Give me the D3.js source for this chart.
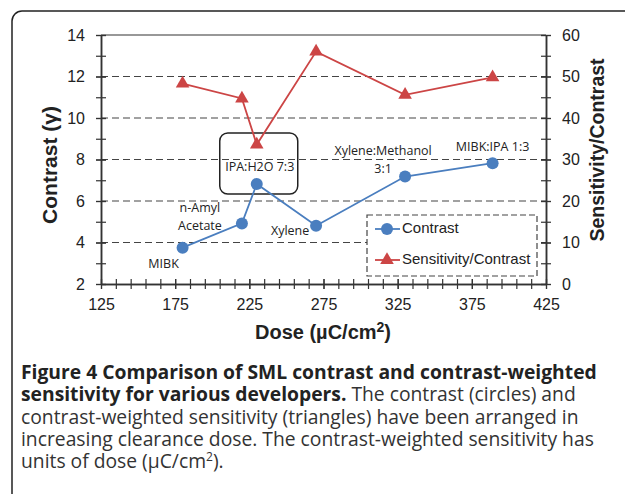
<!DOCTYPE html>
<html>
<head>
<meta charset="utf-8">
<script src="https://cdn.jsdelivr.net/npm/d3@7"></script>
<style>
  body { margin: 0; background: #fff; }
  svg { display: block; }
</style>
</head>
<body>
<svg id="chart" width="625" height="494"></svg>
<script>
// developers, in order of clearance dose
const developers = ["MIBK", "n-Amyl Acetate", "IPA:H2O 7:3", "Xylene", "Xylene:Methanol 3:1", "MIBK:IPA 1:3"]
const dose = [180, 220, 230, 270, 330, 389]
const contrast = [3.75, 4.92, 6.82, 4.81, 7.18, 7.82]
const sensContrast = [48.3, 44.7, 33.6, 56, 45.6, 49.8]

const xTicks = [125, 175, 225, 275, 325, 375, 425]
const yLeftTicks = [2, 4, 6, 8, 10, 12, 14]
const yRightTicks = [0, 10, 20, 30, 40, 50, 60]
const gridValues = [4, 6, 8, 10, 12]

const blue = "#4a7ebf"
const red = "#cc4545"

let svg = d3.select("#chart")

// outer frame of the figure panel (runs off the page on the right and bottom)
svg.append("rect")
    .attr("x", 12).attr("y", 11)
    .attr("width", 640).attr("height", 520)
    .attr("rx", 10)
    .attr("fill", "none")
    .attr("stroke", "#222")
    .attr("stroke-width", 1.5)

let x = d3.scaleLinear().domain([125, 425]).range([101, 546])
let yL = d3.scaleLinear().domain([2, 14]).range([284, 35])
let yR = d3.scaleLinear().domain([0, 60]).range([284, 35])

// dashed gridlines
svg.append("g").selectAll("line")
    .data(gridValues)
    .join("line")
    .attr("x1", x(125)).attr("x2", x(425))
    .attr("y1", d => yL(d)).attr("y2", d => yL(d))
    .attr("stroke", "#444")
    .attr("stroke-width", 1.2)
    .attr("stroke-dasharray", "7,4")

// top border of plot
svg.append("line")
    .attr("x1", x(125)).attr("x2", x(425))
    .attr("y1", yL(14)).attr("y2", yL(14))
    .attr("stroke", "#333").attr("stroke-width", 1.2)

function crossTicks(g, len, vertical) {
    g.selectAll(".tick line")
        .attr(vertical ? "x1" : "y1", -len)
        .attr(vertical ? "x2" : "y2", len)
        .attr("stroke", "#333")
        .attr("stroke-width", 1.2)
    g.select(".domain").attr("stroke", "#333").attr("stroke-width", 1.5)
    g.selectAll("text")
        .attr("font-family", "Liberation Sans, Arial, sans-serif")
        .attr("font-size", 16)
        .attr("fill", "#222")
}

// minor ticks
let xMinor = d3.range(125, 426, 10)
svg.append("g")
    .attr("transform", `translate(0,${yL(2)})`)
    .call(d3.axisBottom(x).tickValues(xMinor).tickFormat("").tickSizeOuter(0))
    .call(g => crossTicks(g, 5, false))

svg.append("g")
    .attr("transform", `translate(0,${yL(2)})`)
    .call(d3.axisBottom(x).tickValues(xTicks).tickFormat(d3.format("d")).tickSizeOuter(0).tickPadding(9))
    .call(g => crossTicks(g, 5, false))

svg.append("g")
    .attr("transform", `translate(${x(125)},0)`)
    .call(d3.axisLeft(yL).tickValues(d3.range(2, 14.1, 1)).tickFormat("").tickSizeOuter(0))
    .call(g => crossTicks(g, 5, true))

svg.append("g")
    .attr("transform", `translate(${x(125)},0)`)
    .call(d3.axisLeft(yL).tickValues(yLeftTicks).tickFormat(d3.format("d")).tickSizeOuter(0).tickPadding(10))
    .call(g => crossTicks(g, 5, true))

svg.append("g")
    .attr("transform", `translate(${x(425)},0)`)
    .call(d3.axisRight(yR).tickValues(d3.range(0, 60.1, 5)).tickFormat("").tickSizeOuter(0))
    .call(g => crossTicks(g, 5, true))

svg.append("g")
    .attr("transform", `translate(${x(425)},0)`)
    .call(d3.axisRight(yR).tickValues(yRightTicks).tickFormat(d3.format("d")).tickSizeOuter(0).tickPadding(10))
    .call(g => crossTicks(g, 5, true))

// axis titles
let titleFont = "Liberation Sans, Arial, sans-serif"
svg.append("text")
    .attr("transform", "translate(57,165) rotate(-90)")
    .attr("text-anchor", "middle")
    .attr("font-family", titleFont).attr("font-weight", "bold").attr("font-size", 21)
    .attr("fill", "#222")
    .text("Contrast (γ)")

svg.append("text")
    .attr("transform", "translate(604,150) rotate(-90)")
    .attr("text-anchor", "middle")
    .attr("font-family", titleFont).attr("font-weight", "bold").attr("font-size", 19.5)
    .attr("fill", "#222")
    .text("Sensitivity/Contrast")

let xTitle = svg.append("text")
    .attr("x", 323).attr("y", 339)
    .attr("text-anchor", "middle")
    .attr("font-family", titleFont).attr("font-weight", "bold").attr("font-size", 20)
    .attr("fill", "#222")
xTitle.append("tspan").text("Dose (µC/cm")
xTitle.append("tspan").attr("font-size", 14).attr("dy", -7).text("2")
xTitle.append("tspan").attr("dy", 7).text(")")

// annotation box around IPA:H2O
svg.append("rect")
    .attr("x", x(230) - 37).attr("y", 133)
    .attr("width", 78).attr("height", 61)
    .attr("rx", 8)
    .attr("fill", "none")
    .attr("stroke", "#222")
    .attr("stroke-width", 1.5)

// series lines
let lineL = d3.line().x((d, i) => x(dose[i])).y(d => yL(d))
let lineR = d3.line().x((d, i) => x(dose[i])).y(d => yR(d))

svg.append("path")
    .attr("d", lineR(sensContrast))
    .attr("fill", "none").attr("stroke", red).attr("stroke-width", 1.8)

svg.append("path")
    .attr("d", lineL(contrast))
    .attr("fill", "none").attr("stroke", blue).attr("stroke-width", 1.8)

let tri = d3.symbol().type(d3.symbolTriangle).size(80)

svg.append("g").selectAll("path")
    .data(sensContrast)
    .join("path")
    .attr("d", tri)
    .attr("transform", (d, i) => `translate(${x(dose[i])},${yR(d)})`)
    .attr("fill", red)

svg.append("g").selectAll("circle")
    .data(contrast)
    .join("circle")
    .attr("cx", (d, i) => x(dose[i]))
    .attr("cy", d => yL(d))
    .attr("r", 6)
    .attr("fill", blue)

// point labels
let labelFont = "Open Sans, sans-serif"
let pointLabels = [
    { lines: ["MIBK"], dx: -19, dy: 17 },
    { lines: ["n-Amyl", "Acetate"], dx: -42, dy: -15 },
    { lines: ["IPA:H2O 7:3"], dx: 3, dy: -16 },
    { lines: ["Xylene"], dx: -26, dy: 6 },
    { lines: ["Xylene:Methanol", "3:1"], dx: -22, dy: -25 },
    { lines: ["MIBK:IPA 1:3"], dx: 0, dy: -16 }
]
pointLabels.forEach((p, i) => {
    p.lines.forEach((s, j) => {
        svg.append("text")
            .attr("x", x(dose[i]) + p.dx)
            .attr("y", yL(contrast[i]) + p.dy + j * 18)
            .attr("text-anchor", "middle")
            .attr("dominant-baseline", "middle")
            .attr("font-family", labelFont).attr("font-size", 12.5)
            .attr("fill", "#222")
            .text(s)
    })
})

// legend
let legend = svg.append("g").attr("transform", "translate(367,215)")
legend.append("rect")
    .attr("width", 170).attr("height", 61)
    .attr("fill", "#fff")
    .attr("stroke", "#444").attr("stroke-width", 1.2)
    .attr("stroke-dasharray", "6,3")
let legendItems = [{ name: "Contrast", color: blue, shape: "circle" },
                   { name: "Sensitivity/Contrast", color: red, shape: "triangle" }]
legendItems.forEach((d, i) => {
    let gy = 14 + i * 31
    legend.append("line")
        .attr("x1", 8).attr("x2", 33).attr("y1", gy).attr("y2", gy)
        .attr("stroke", d.color).attr("stroke-width", 1.8)
    if (d.shape == "circle") {
        legend.append("circle").attr("cx", 20).attr("cy", gy).attr("r", 6).attr("fill", d.color)
    } else {
        legend.append("path").attr("d", tri).attr("transform", `translate(20,${gy})`).attr("fill", d.color)
    }
    legend.append("text")
        .attr("x", 35).attr("y", gy)
        .attr("dominant-baseline", "middle")
        .attr("font-family", titleFont).attr("font-size", 15)
        .attr("fill", "#222")
        .text(d.name)
})

// caption
let capFont = "Open Sans, sans-serif"
let capLines = [
    [{ t: "Figure 4 Comparison of SML contrast and contrast-weighted", b: true }],
    [{ t: "sensitivity for various developers.", b: true }, { t: " The contrast (circles) and" }],
    [{ t: "contrast-weighted sensitivity (triangles) have been arranged in" }],
    [{ t: "increasing clearance dose. The contrast-weighted sensitivity has" }],
    [{ t: "units of dose (µC/cm" }, { t: "2", sup: true }, { t: ")." }]
]
capLines.forEach((line, i) => {
    let row = svg.append("text")
        .attr("x", 21).attr("y", 379 + i * 22.3)
        .attr("font-family", capFont).attr("font-size", 19.3).attr("fill", "#222")
    line.forEach(seg => {
        let ts = row.append("tspan").text(seg.t)
        if (seg.b) ts.attr("font-weight", "bold")
        else ts.attr("font-weight", "normal").attr("fill", "#333")
        if (seg.sup) ts.attr("font-size", 12).attr("dy", -7)
        if (seg.t == ").") ts.attr("dy", 7)
    })
})
</script>
</body>
</html>
